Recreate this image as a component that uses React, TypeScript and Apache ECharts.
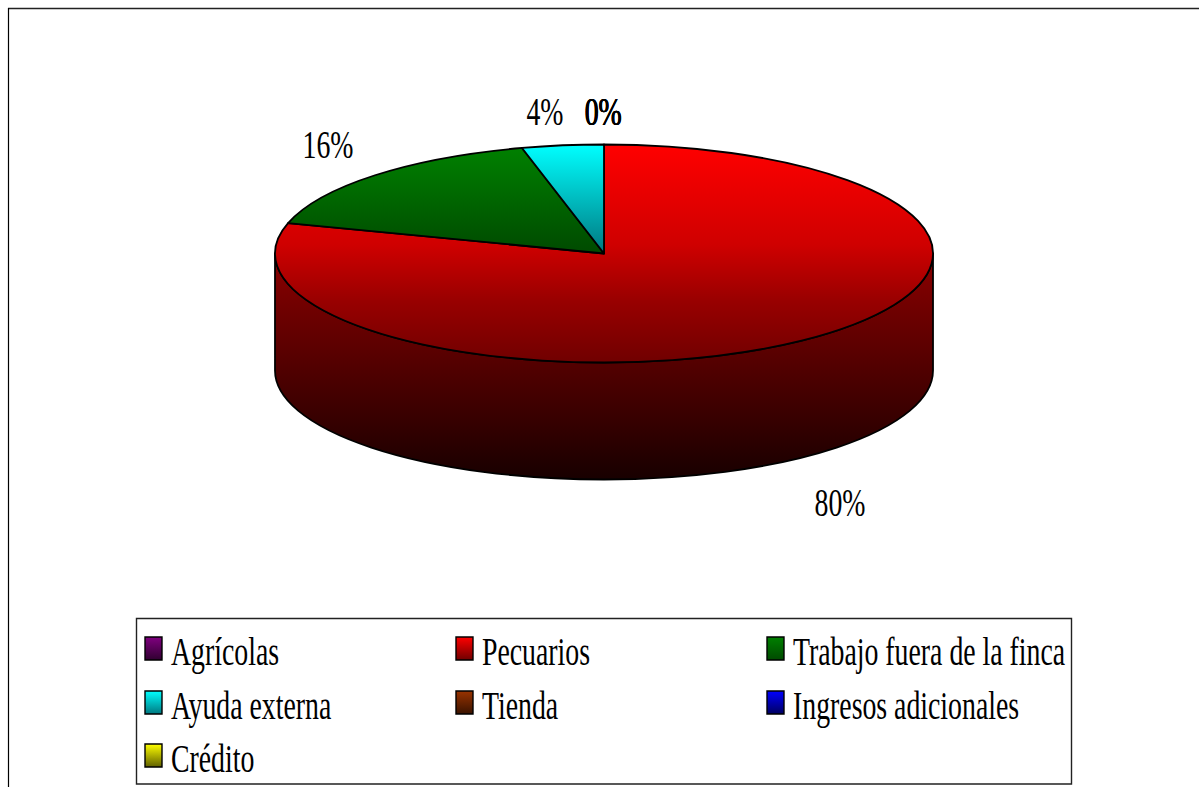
import React, { useEffect, useRef } from "react";
import * as echarts from "echarts";

const categories = ["Agrícolas", "Pecuarios", "Trabajo fuera de la finca", "Ayuda externa", "Tienda", "Ingresos adicionales", "Crédito"];
const values = [0, 79.5, 16.49, 4.01, 0, 0, 0];
const topColors = ["#800080", "#ff0000", "#008000", "#00ffff", "#993300", "#0000ff", "#ffff00"];
const bottomColors = ["#300030", "#700000", "#004a00", "#007880", "#3a1300", "#000060", "#606000"];

const CX = 604, CY = 253.5, RX = 329, RY = 109, DEPTH = 117;
const FONT = "'Liberation Serif', 'Times New Roman', serif";
const TEXT_SIZE = 27.8, TEXT_SCALE_Y = 1.42;
const labelCenters = [[603, 112], [840, 503], [328, 145], [545, 112], [603.5, 112], [603, 112], [603.5, 112]];
const legendCols = [145, 456, 767];
const legendRows = [637, 691, 744];

const total = values.reduce((a, b) => a + b, 0);
const pt = (t: number, dy = 0) => [CX + RX * Math.sin(t), CY - RY * Math.cos(t) + dy];
const grad = (a: string, b: string) =>
  new echarts.graphic.LinearGradient(0, 0, 0, 1, [{ offset: 0, color: a }, { offset: 1, color: b }]);
const redFace = () =>
  new echarts.graphic.LinearGradient(0, 0, 0, 1, [
    { offset: 0, color: "#ff0000" },
    { offset: 0.46, color: "#cf0000" },
    { offset: 0.72, color: "#980000" },
    { offset: 1, color: "#700000" },
  ]);
const outline = { stroke: "#000", lineWidth: 1.8, lineJoin: "round" };

function renderSlice(params: any, api: any) {
  const i = params.dataIndex;
  const v = api.value(0);
  const before = values.slice(0, i).reduce((a, b) => a + b, 0);
  const a0 = (before / total) * Math.PI * 2;
  const a1 = ((before + v) / total) * Math.PI * 2;
  const children: any[] = [];
  if (v > 0) {
    const s0 = Math.max(a0, Math.PI / 2);
    const s1 = Math.min(a1, (Math.PI * 3) / 2);
    if (s1 > s0) {
      const [x0, y0] = pt(s0);
      const [x1, y1] = pt(s1);
      const d = `M${x0} ${y0}A${RX} ${RY} 0 0 1 ${x1} ${y1}L${x1} ${y1 + DEPTH}A${RX} ${RY} 0 0 0 ${x0} ${y0 + DEPTH}Z`;
      children.push({
        type: "path",
        shape: { pathData: d },
        style: { fill: grad("#8c0000", "#180000"), ...outline },
      });
    }
    const [x0, y0] = pt(a0);
    const [x1, y1] = pt(a1);
    const large = a1 - a0 > Math.PI ? 1 : 0;
    children.push({
      type: "path",
      shape: { pathData: `M${CX} ${CY}L${x0} ${y0}A${RX} ${RY} 0 ${large} 1 ${x1} ${y1}Z` },
      style: { fill: large ? redFace() : grad(topColors[i], bottomColors[i]), ...outline },
    });
  }
  const [lx, ly] = labelCenters[i];
  children.push({
    type: "text",
    x: lx,
    y: ly,
    scaleY: TEXT_SCALE_Y,
    z2: 50,
    style: {
      text: `${Math.round(v)}%`,
      x: 0,
      y: 0,
      align: "center",
      verticalAlign: "middle",
      fill: "#000",
      font: `${TEXT_SIZE}px ${FONT}`,
    },
  });
  return { type: "group", children };
}

function legendGraphics() {
  const els: any[] = [
    { type: "line", shape: { x1: 8, y1: 8.5, x2: 1199, y2: 8.5 }, style: { stroke: "#222", lineWidth: 1.5 } },
    { type: "line", shape: { x1: 8.5, y1: 8, x2: 8.5, y2: 787 }, style: { stroke: "#000", lineWidth: 1.2 } },
    { type: "rect", shape: { x: 136.5, y: 618.5, width: 935, height: 165.5 }, style: { fill: "#fff", stroke: "#222", lineWidth: 1.4 } },
  ];
  categories.forEach((name, i) => {
    const x = legendCols[i % 3];
    const y = legendRows[Math.floor(i / 3)];
    els.push({
      type: "rect",
      shape: { x, y, width: 17, height: 23 },
      style: { fill: grad(topColors[i], bottomColors[i]), stroke: "#000", lineWidth: 1.4 },
    });
    els.push({
      type: "text",
      x: x + 26,
      y: y + 15,
      scaleY: TEXT_SCALE_Y,
      style: {
        text: name,
        x: 0,
        y: 0,
        align: "left",
        verticalAlign: "middle",
        fill: "#000",
        font: `${TEXT_SIZE}px ${FONT}`,
      },
    });
  });
  return els;
}

export default function App() {
  const ref = useRef<HTMLDivElement>(null);
  useEffect(() => {
    document.body.style.margin = "0";
    const chart = echarts.init(ref.current!, undefined, { renderer: "svg" });
    chart.setOption({
      animation: false,
      backgroundColor: "#fff",
      graphic: legendGraphics(),
      series: [
        {
          type: "custom",
          coordinateSystem: "none",
          renderItem: renderSlice,
          data: values.map((v, i) => ({ name: categories[i], value: [v] })),
          silent: true,
          clip: false,
        },
      ],
    });
    return () => chart.dispose();
  }, []);
  return <div ref={ref} style={{ position: "absolute", left: 0, top: 0, width: 1199, height: 787 }} />;
}
